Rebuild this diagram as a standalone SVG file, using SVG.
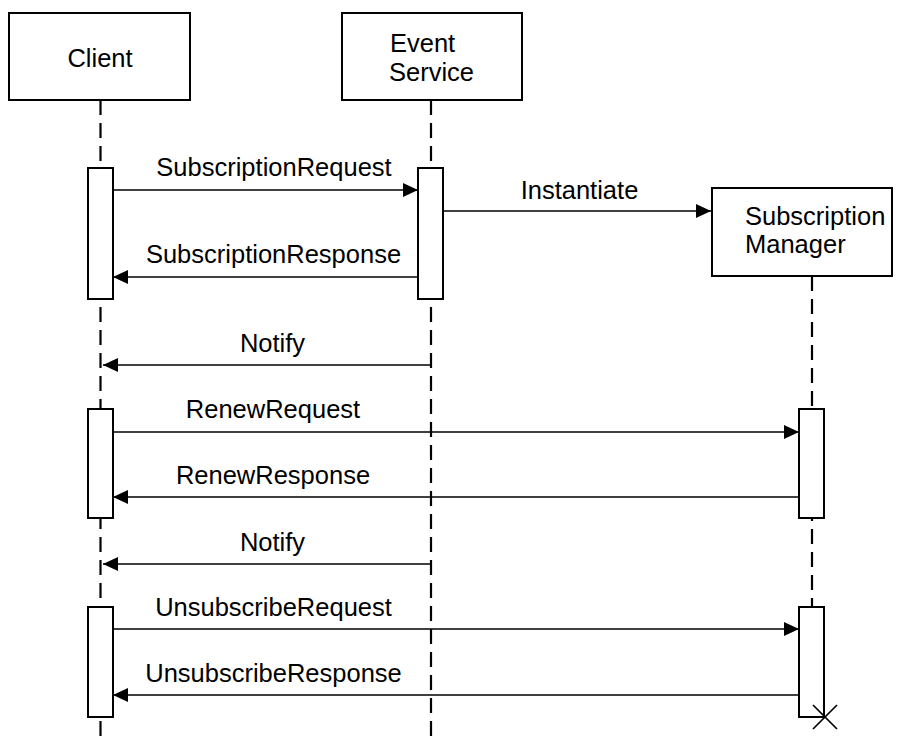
<svg xmlns="http://www.w3.org/2000/svg" width="907" height="737" viewBox="0 0 907 737">
<style>
.box{fill:#fff;stroke:#000;stroke-width:2}
.life{stroke:#000;stroke-width:2.2;stroke-dasharray:15 8;fill:none}
.msg{stroke:#000;stroke-width:1.7;fill:none}
.t{font-family:"Liberation Sans",Arial,sans-serif;font-size:25.5px;fill:#000}
.c{text-anchor:middle}
</style>
<defs>
<marker id="ah" viewBox="0 0 15 14" refX="15" refY="7" markerWidth="15" markerHeight="14" markerUnits="userSpaceOnUse" orient="auto">
<path d="M0,0 L15,7 L0,14 Z" fill="#000"/>
</marker>
</defs>
<rect width="907" height="737" fill="#fff"/>
<g id="lifelines">
<line class="life" x1="100.5" y1="100" x2="100.5" y2="737"/>
<line class="life" x1="431" y1="100" x2="431" y2="737"/>
<line class="life" x1="812" y1="276" x2="812" y2="607"/>
</g>
<g id="client">
<rect class="box" x="9" y="13" width="181" height="87"/>
<text class="t c" x="100" y="67">Client</text>
</g>
<g id="event-service">
<rect class="box" x="342" y="13" width="180" height="87"/>
<text class="t" x="390" y="52">Event</text>
<text class="t" x="389" y="80.5">Service</text>
</g>
<g id="subscription-manager">
<rect class="box" x="712" y="188" width="180" height="88"/>
<text class="t" x="745" y="225">Subscription</text>
<text class="t" x="745" y="253">Manager</text>
</g>
<g id="activations">
<rect class="box" x="88" y="168" width="25" height="131"/>
<rect class="box" x="418" y="168" width="25" height="131"/>
<rect class="box" x="88" y="409" width="25" height="109"/>
<rect class="box" x="799" y="409" width="25" height="109"/>
<rect class="box" x="88" y="607" width="25" height="110"/>
<rect class="box" x="799" y="607" width="25" height="110"/>
</g>
<g id="connectors">
<line class="msg" x1="113" y1="190" x2="418" y2="190" marker-end="url(#ah)"/>
<line class="msg" x1="443" y1="211" x2="711" y2="211" marker-end="url(#ah)"/>
<line class="msg" x1="418" y1="277" x2="113" y2="277" marker-end="url(#ah)"/>
<line class="msg" x1="431" y1="365" x2="103" y2="365" marker-end="url(#ah)"/>
<line class="msg" x1="113" y1="432" x2="799" y2="432" marker-end="url(#ah)"/>
<line class="msg" x1="799" y1="497" x2="113" y2="497" marker-end="url(#ah)"/>
<line class="msg" x1="431" y1="564" x2="103" y2="564" marker-end="url(#ah)"/>
<line class="msg" x1="113" y1="629" x2="799" y2="629" marker-end="url(#ah)"/>
<line class="msg" x1="799" y1="695" x2="113" y2="695" marker-end="url(#ah)"/>
</g>
<g id="labels">
<text class="t c" x="274" y="176">SubscriptionRequest</text>
<text class="t c" x="579.5" y="199">Instantiate</text>
<text class="t c" x="273.5" y="263">SubscriptionResponse</text>
<text class="t c" x="272.5" y="352">Notify</text>
<text class="t c" x="273" y="418">RenewRequest</text>
<text class="t c" x="273" y="484">RenewResponse</text>
<text class="t c" x="272.5" y="551">Notify</text>
<text class="t c" x="273.5" y="616">UnsubscribeRequest</text>
<text class="t c" x="273.5" y="682">UnsubscribeResponse</text>
</g>
<g id="destroy">
<line class="msg" x1="813" y1="705" x2="837" y2="729"/>
<line class="msg" x1="837" y1="705" x2="813" y2="729"/>
</g>
</svg>
